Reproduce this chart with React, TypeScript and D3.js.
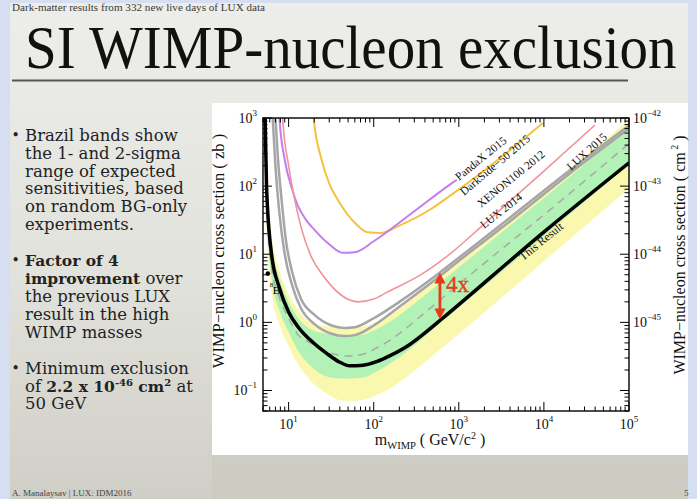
import React from 'react';
import * as d3 from 'd3';

const W = 697;
const H = 499;
const SERIF = "'Liberation Serif', 'Times New Roman', serif";
const BODY = "'DejaVu Serif', serif";

// ---------- axis data ----------
const xMajorTicks = [10, 100, 1000, 10000, 100000];
const xTickExponents = ['1', '2', '3', '4', '5'];
const yMajorTicks = [0.1, 1, 10, 100, 1000];
const yTickExponents = ['−1', '0', '1', '2', '3'];
const rightTicksZb = [1, 10, 100, 1000];
const rightTickExponents = ['−45', '−44', '−43', '−42'];

// ---------- Brazil band (GeV, zb) ----------
const bandMass = [5.15, 5.3, 5.5, 6.3, 7.8, 10, 13, 18, 28, 40, 52, 75, 108, 180, 263, 646, 2000, 10800, 100000];
const yellowLow = [1500, 300, 25, 2.8, 0.95, 0.45, 0.24, 0.14, 0.09, 0.072, 0.07, 0.073, 0.085, 0.12, 0.17, 0.43, 1.4, 8.6, 92];
const greenLow = [3000, 500, 45, 4.5, 1.5, 0.72, 0.38, 0.23, 0.16, 0.15, 0.15, 0.155, 0.19, 0.28, 0.4, 1.05, 3.4, 20, 210];
const medianZb = [5000, 800, 70, 6.5, 2.3, 1.15, 0.65, 0.5, 0.37, 0.33, 0.32, 0.34, 0.42, 0.62, 0.9, 2.3, 7.4, 41, 420];
const greenHigh = [20000, 1800, 170, 15, 4.5, 2.0, 1.15, 0.8, 0.68, 0.64, 0.63, 0.66, 0.8, 1.15, 1.65, 4.1, 13, 72, 740];
const yellowHigh = [30000, 2500, 230, 20, 5.8, 2.6, 1.5, 1.0, 0.88, 0.85, 0.84, 0.86, 1.02, 1.45, 2.1, 5.3, 17, 93, 950];

// ---------- limit curves (GeV, zb) ----------
const thisResultMass = [5.2, 5.3, 5.5, 6.3, 7.8, 10, 13, 18, 28, 40, 52, 75, 108, 160, 263, 400, 646, 10800, 100000];
const thisResultZb = [3000, 1000, 100, 10, 3.2, 1.42, 0.85, 0.55, 0.35, 0.26, 0.23, 0.235, 0.265, 0.33, 0.47, 0.7, 1.15, 23, 220];

const lux2014Mass = [6.8, 7.0, 7.5, 8.3, 9.3, 11, 14, 20, 32, 45, 60, 100, 200, 600, 900, 3000, 20000, 100000];
const lux2014Zb = [2000, 1000, 250, 60, 16, 5.5, 2.2, 1.3, 0.9, 0.83, 0.85, 1.15, 2.0, 5.4, 8.0, 26, 170, 780];

const lux2015Mass = [6.3, 6.5, 7.0, 7.8, 9, 11, 14, 20, 32, 45, 60, 100, 200, 600, 900, 3000, 20000, 100000];
const lux2015Zb = [2000, 1000, 200, 40, 10, 3.5, 1.6, 0.95, 0.68, 0.63, 0.65, 0.9, 1.7, 4.8, 7.2, 23, 152, 700];

const xenonMass = [8.3, 8.5, 10, 11.8, 14, 18.6, 25, 32, 49, 65, 100, 146, 367, 725, 2000, 10000, 39800];
const xenonZb = [2000, 1000, 200, 63.5, 25, 9, 5, 3.4, 2.2, 2.0, 2.2, 2.8, 5.1, 9.3, 28, 166, 790];

const pandaMass = [7.6, 7.8, 9.0, 11, 12.8, 16, 20, 30, 43, 60, 100, 265, 784, 947];
const pandaZb = [2000, 1000, 244, 90, 52, 32, 23, 14, 10.5, 10.7, 15.5, 38, 105, 124];

const darksideMass = [19.2, 19.7, 24.4, 30, 37.7, 48, 60, 85, 120, 191, 456, 784, 2000, 9730];
const darksideZb = [2000, 1000, 244, 110, 63.5, 40, 29, 21, 20.5, 25.7, 45, 72, 170, 845];

// 8B neutrino point and the "4x" arrow
const boronMass = 5.7;
const boronZb = 5.2;
const arrowMass = 600;
const arrowTopZb = 5.4;
const arrowBottomZb = 1.1;

// ---------- text ----------
const bulletLines: { y: number; parts: { t: string; b?: boolean; sup?: boolean }[]; bullet?: boolean }[] = [
  { y: 140.5, bullet: true, parts: [{ t: 'Brazil bands show' }] },
  { y: 158.5, parts: [{ t: 'the 1- and 2-sigma' }] },
  { y: 176.5, parts: [{ t: 'range of expected' }] },
  { y: 194.3, parts: [{ t: 'sensitivities, based' }] },
  { y: 212, parts: [{ t: 'on random BG-only' }] },
  { y: 230, parts: [{ t: 'experiments.' }] },
  { y: 266, bullet: true, parts: [{ t: 'Factor of 4', b: true }] },
  { y: 284, parts: [{ t: 'improvement', b: true }, { t: ' over' }] },
  { y: 302, parts: [{ t: 'the previous LUX' }] },
  { y: 319.7, parts: [{ t: 'result in the high' }] },
  { y: 337.7, parts: [{ t: 'WIMP masses' }] },
  { y: 373.7, bullet: true, parts: [{ t: 'Minimum exclusion' }] },
  { y: 391.7, parts: [{ t: 'of ' }, { t: '2.2 x 10', b: true }, { t: '-46', b: true, sup: true }, { t: ' cm', b: true }, { t: '2', b: true, sup: true }, { t: ' at' }] },
  { y: 409.3, parts: [{ t: '50 GeV' }] },
];

const curveLabels = [
  { text: 'PandaX 2015', x: 459, y: 181, a: -39 },
  { text: 'DarkSide−50 2015', x: 464, y: 196, a: -40 },
  { text: 'XENON100 2012', x: 481, y: 208, a: -39 },
  { text: 'LUX 2014', x: 484, y: 229, a: -38 },
  { text: 'LUX 2015', x: 571, y: 171, a: -42 },
  { text: 'This Result', x: 523, y: 261, a: -39 },
];

export default function App() {
  const L = 263, R = 629, T = 118, B = 411;
  const x = d3.scaleLog().domain([5, 1e5]).range([L, R]);
  const y = d3.scaleLog().domain([0.05, 1000]).range([B, T]);

  const lineGen = d3
    .line<[number, number]>()
    .x((d) => x(d[0]))
    .y((d) => y(d[1]))
    .curve(d3.curveMonotoneX);
  const zip = (m: number[], v: number[]) => m.map((mm, i) => [mm, v[i]] as [number, number]);
  const band = (lo: number[], hi: number[]) =>
    d3
      .area<number>()
      .x((d) => x(d))
      .y0((_, i) => y(lo[i]))
      .y1((_, i) => y(hi[i]))
      .curve(d3.curveMonotoneX)(bandMass) || '';

  const isMajor = (v: number) => Math.abs(Math.log10(v) - Math.round(Math.log10(v))) < 1e-6;
  const xt = x.ticks();
  const yt = y.ticks();

  const ax = x(arrowMass);
  const ay1 = y(arrowTopZb);
  const ay2 = y(arrowBottomZb);
  const red = '#e8391c';

  return (
    <svg width={W} height={H} style={{ position: 'absolute', left: 0, top: 0 }} xmlns="http://www.w3.org/2000/svg">
      <defs>
        <linearGradient id="slideBg" x1="0" y1="0" x2="0" y2="1">
          <stop offset="0" stopColor="#ededea" />
          <stop offset="0.55" stopColor="#e2e2dc" />
          <stop offset="1" stopColor="#cfcfc7" />
        </linearGradient>
        <clipPath id="plotClip">
          <rect x={L} y={T} width={R - L} height={B - T} />
        </clipPath>
      </defs>

      {/* outer page */}
      <rect x={0} y={0} width={W} height={H} fill="#d5dff1" />
      <rect x={10} y={3} width={678} height={H - 3} fill="url(#slideBg)" />
      <rect x={212} y={455} width={476} height={44} fill="#cacac2" opacity={0.7} />

      {/* header */}
      <text x={12} y={11} fontFamily={SERIF} fontSize={10.5} fill="#3a3a3a" textLength={253} lengthAdjust="spacingAndGlyphs">
        Dark-matter results from 332 new live days of LUX data
      </text>
      <text transform="translate(25,68) scale(0.935,1)" fontFamily={SERIF} fontSize={61} fill="#111">
        SI WIMP-nucleon exclusion
      </text>
      <line x1={12} x2={628} y1={80.5} y2={80.5} stroke="#555" strokeWidth={2} />

      {/* bullets */}
      {bulletLines.map((ln, i) => (
        <g key={i}>
          {ln.bullet && (
            <text x={11.5} y={ln.y - 1} fontFamily={BODY} fontSize={14} fill="#222">
              •
            </text>
          )}
          <text x={25} y={ln.y} fontFamily={BODY} fontSize={16.5} fill="#222">
            {ln.parts.map((p, j) => {
              const prevSup = j > 0 && ln.parts[j - 1].sup;
              const dy = p.sup ? -6 : prevSup ? 6 : 0;
              return (
                <tspan key={j} fontWeight={p.b ? 'bold' : 'normal'} fontSize={p.sup ? 10 : p.b ? 15.5 : 16.5} dy={dy}>
                  {p.t}
                </tspan>
              );
            })}
          </text>
        </g>
      ))}

      {/* footer */}
      <text x={12} y={496} fontFamily={SERIF} fontSize={9} fill="#444">
        A. Manalaysav | LUX: IDM2016
      </text>
      <text x={684} y={496} fontFamily={SERIF} fontSize={9} fill="#444">
        5
      </text>

      {/* plot panel */}
      <rect x={212} y={103} width={476} height={352} fill="#ffffff" />

      <g clipPath="url(#plotClip)">
        <path d={band(yellowLow, yellowHigh)} fill="#faf7ae" />
        <path d={band(greenLow, greenHigh)} fill="#b2f2b6" />
        <path d={lineGen(zip(bandMass, medianZb)) || ''} fill="none" stroke="#a8a8a8" strokeWidth={1.5} strokeDasharray="8,6" />
        <path d={lineGen(zip(darksideMass, darksideZb)) || ''} fill="none" stroke="#f4c23e" strokeWidth={2} />
        <path d={lineGen(zip(pandaMass, pandaZb)) || ''} fill="none" stroke="#c47cf0" strokeWidth={2} />
        <path d={lineGen(zip(xenonMass, xenonZb)) || ''} fill="none" stroke="#f0939a" strokeWidth={1.6} />
        <path d={lineGen(zip(lux2014Mass, lux2014Zb)) || ''} fill="none" stroke="#a6a6a6" strokeWidth={2.5} />
        <path d={lineGen(zip(lux2015Mass, lux2015Zb)) || ''} fill="none" stroke="#a6a6a6" strokeWidth={2.5} />
        <path d={lineGen(zip(thisResultMass, thisResultZb)) || ''} fill="none" stroke="#000" strokeWidth={3.5} />
      </g>

      {/* 8B */}
      <circle cx={x(boronMass)} cy={y(boronZb)} r={2.3} fill="#000" />
      <text x={x(boronMass) + 2} y={y(boronZb) + 13} fontFamily={SERIF} fontSize={7} fill="#000">
        8
      </text>
      <text x={x(boronMass) + 5} y={y(boronZb) + 20} fontFamily={SERIF} fontSize={11} fill="#000">
        B
      </text>

      {/* curve labels */}
      {curveLabels.map((c) => (
        <text key={c.text} transform={`translate(${c.x},${c.y}) rotate(${c.a})`} fontFamily={SERIF} fontSize={11.5} fill="#111">
          {c.text}
        </text>
      ))}

      {/* 4x arrow */}
      <line x1={ax} x2={ax} y1={ay1 + 8} y2={ay2 - 8} stroke={red} strokeWidth={2.8} />
      <path d={`M${ax - 5.5},${ay1 + 11} L${ax},${ay1} L${ax + 5.5},${ay1 + 11} Z`} fill={red} />
      <path d={`M${ax - 5.5},${ay2 - 11} L${ax},${ay2} L${ax + 5.5},${ay2 - 11} Z`} fill={red} />
      <text x={ax + 6} y={ay1 + 20} fontFamily={SERIF} fontSize={23} fill={red} stroke={red} strokeWidth={0.4}>
        4x
      </text>

      {/* frame */}
      <rect x={L} y={T} width={R - L} height={B - T} fill="none" stroke="#000" strokeWidth={1.4} />

      {/* ticks */}
      {xt.map((t, i) => {
        const len = isMajor(t) ? 9 : 4.5;
        const px = x(t);
        return (
          <g key={'xt' + i}>
            <line x1={px} x2={px} y1={B} y2={B - len} stroke="#000" strokeWidth={1} />
            <line x1={px} x2={px} y1={T} y2={T + len} stroke="#000" strokeWidth={1} />
          </g>
        );
      })}
      {yt.map((t, i) => {
        const len = isMajor(t) ? 9 : 4.5;
        const py = y(t);
        return (
          <g key={'yt' + i}>
            <line x1={L} x2={L + len} y1={py} y2={py} stroke="#000" strokeWidth={1} />
            <line x1={R} x2={R - len} y1={py} y2={py} stroke="#000" strokeWidth={1} />
          </g>
        );
      })}

      {/* tick labels */}
      {xMajorTicks.map((t, i) => (
        <text key={'xl' + i} x={x(t)} y={429} textAnchor="middle" fontFamily={SERIF} fontSize={14} fill="#111">
          <tspan>10</tspan>
          <tspan dy={-7} fontSize={9}>
            {xTickExponents[i]}
          </tspan>
        </text>
      ))}
      {yMajorTicks.map((t, i) => (
        <text key={'yl' + i} x={257} y={y(t) + 5} textAnchor="end" fontFamily={SERIF} fontSize={14} fill="#111">
          <tspan>10</tspan>
          <tspan dy={-7} fontSize={9}>
            {yTickExponents[i]}
          </tspan>
        </text>
      ))}
      {rightTicksZb.map((t, i) => (
        <text key={'rl' + i} x={633} y={y(t) + 5} fontFamily={SERIF} fontSize={14} fill="#111">
          <tspan>10</tspan>
          <tspan dy={-7} fontSize={9}>
            {rightTickExponents[i]}
          </tspan>
        </text>
      ))}

      {/* axis titles */}
      <text transform="translate(224,251) rotate(-90)" textAnchor="middle" fontFamily={SERIF} fontSize={16.5} fill="#111">
        WIMP−nucleon cross section ( zb )
      </text>
      <text transform="translate(685,255) rotate(-90)" textAnchor="middle" fontFamily={SERIF} fontSize={16} fill="#111">
        <tspan>WIMP−nucleon cross section ( cm</tspan>
        <tspan dy={-7} fontSize={10}>
          {' 2'}
        </tspan>
        <tspan dy={7}> )</tspan>
      </text>
      <text x={430} y={445} textAnchor="middle" fontFamily={SERIF} fontSize={16} fill="#111">
        <tspan>m</tspan>
        <tspan dy={4} fontSize={10.5}>
          WIMP
        </tspan>
        <tspan dy={-4}> ( GeV/c</tspan>
        <tspan dy={-6} fontSize={10}>
          2
        </tspan>
        <tspan dy={6}> )</tspan>
      </text>
    </svg>
  );
}
